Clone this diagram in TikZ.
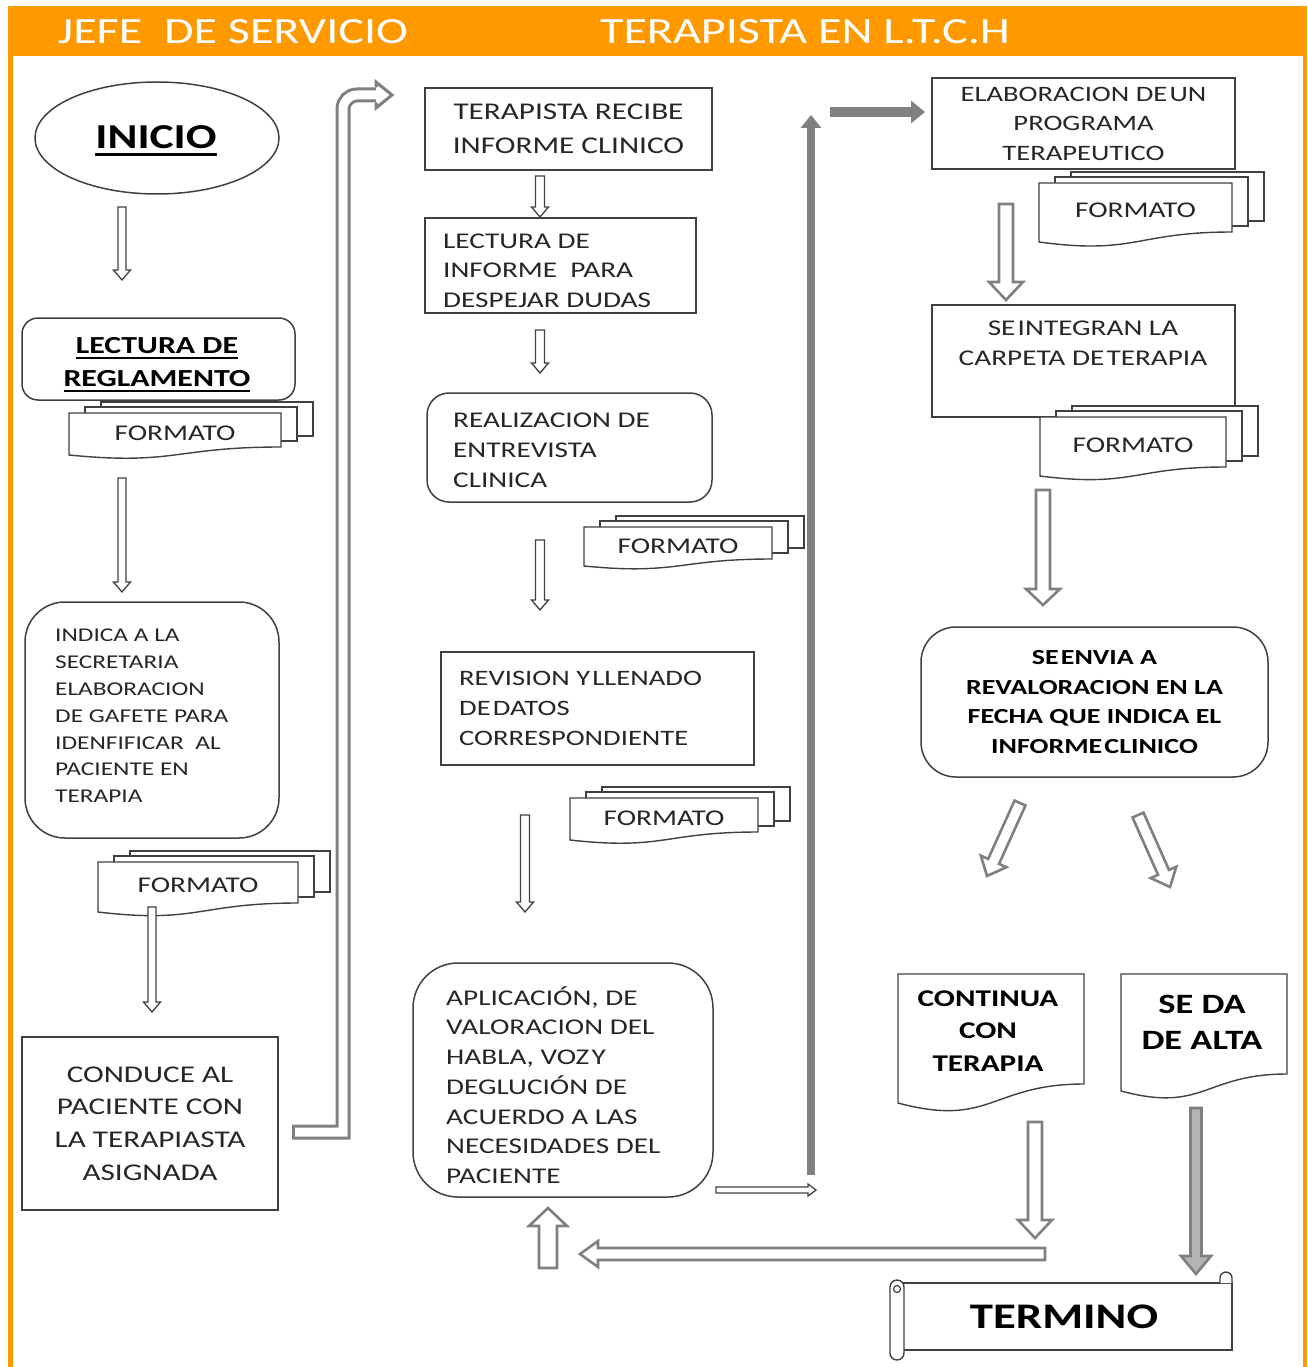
\documentclass[tikz,border=0pt]{standalone}
\usepackage{fontspec}
\setmainfont{Carlito}[FakeStretch=1.3]
\usetikzlibrary{calc,arrows.meta,shapes.geometric}
\definecolor{hdr}{RGB}{255,153,0}
\definecolor{agray}{RGB}{128,128,128}
\definecolor{bline}{RGB}{64,64,64}
\definecolor{txt}{RGB}{38,38,38}
\newcommand{\tsp}{\hspace{0.1em}}
\newcommand{\myul}[3]{\setbox0=\hbox{#1}\leavevmode\rlap{\rule[-#2]{\wd0}{#3}}\box0}
\newcommand{\blockarr}[6]{%
 \coordinate (ba-n) at ($(#2)!#5!(#1)$);
 \draw[#6] ($(#1)!#3!90:(#2)$) -- ($(ba-n)!#3!90:(#2)$) -- ($(ba-n)!#4!90:(#2)$) -- (#2) -- ($(ba-n)!#4!-90:(#2)$) -- ($(ba-n)!#3!-90:(#2)$) -- ($(#1)!#3!-90:(#2)$) -- cycle;}
\newcommand{\docshape}[5]{%
 \pgfmathsetmacro\fxm{(#1+#3)/2}\pgfmathsetmacro\fyc{#4+2.31*(#5-#4)}%
 \draw[docst] (#1,#2) -- (#3,#2) -- (#3,#4) .. controls (\fxm,#4) and (\fxm,\fyc) .. (#1,#5) -- cycle;}
\newcommand{\fmtstack}[6]{% name, x0, y0, x1, yR, yL
 \draw[docst] (#2+32,#3-11) rectangle (#4+32,#5-11);
 \draw[docst] (#2+16,#3-6) rectangle (#4+16,#5-6);
 \docshape{#2}{#3}{#4}{#5}{#6}
 \node[fmttxt] (#1) at ({(#2+#4)/2},{(#3+#5)/2+3}) {FORMATO};}
\tikzset{
 box/.style={draw=bline, line width=1.5pt, fill=white, inner sep=0pt},
 docst/.style={draw=bline, line width=1.4pt, fill=white},
 txtn/.style={text=txt, inner sep=0pt},
 fmttxt/.style={text=txt, inner sep=0pt, font=\fontsize{22.5}{27}\selectfont},
 hdrtxt/.style={text=white, inner sep=0pt, font=\fontsize{37}{42}\selectfont},
 thinarr/.style={draw=bline, line width=1.3pt, fill=white, line join=miter},
 grayarr/.style={draw=agray, line width=2.6pt, fill=white, line join=miter},
}
\begin{document}
\begin{tikzpicture}[x=1pt,y=-1pt]
\useasboundingbox (0,0) rectangle (1307,1367);
% frame
\fill[hdr] (8,6) rectangle (1307,56);
\fill[hdr] (8,56) rectangle (13,1367);
\fill[hdr] (1303,56) rectangle (1307,1367);
\node[hdrtxt] (h1) at (233,32) {JEFE\ \ DE SERVICIO};
\node[hdrtxt] (h2) at (805,32) {TERAPISTA EN L.T.C.H};

% ---------- left column
\node[box, ellipse, minimum width=244pt, minimum height=112pt] (inicio) at (157,138) {};
\node[txtn, text=black, font=\bfseries\fontsize{35}{40}\selectfont] (inicio-t) at (156,141) {\myul{INICIO}{7pt}{3pt}};
\node[box, rounded corners=16pt, minimum width=273pt, minimum height=82pt] (lectura) at (158.5,359) {};
\node[txtn, align=center, text=black, font=\bfseries\fontsize{24.5}{33}\selectfont] (lectura-t) at (157,365)
  {\myul{LECTURA DE}{5.5pt}{2.5pt}\\\myul{REGLAMENTO}{5.5pt}{2.5pt}};
\fmtstack{fmt1}{69}{413}{281}{447}{455}
\node[box, rounded corners=40pt, minimum width=254pt, minimum height=236pt] (indica) at (152,720) {};
\node[txtn, anchor=west, align=left, font=\fontsize{19.5}{26.8}\selectfont] (indica-t) at (55,716)
  {INDICA A LA\\SECRETARIA\\ELABORACION\\DE GAFETE PARA\\IDENFIFICAR\ \ AL\\PACIENTE EN\\TERAPIA};
\fmtstack{fmt2}{98}{862}{298}{903}{912}
\node[box, minimum width=256pt, minimum height=173pt, align=center, text=txt,
  font=\fontsize{24}{32.7}\selectfont] (conduce) at (150,1123.5)
  {CONDUCE AL\\PACIENTE CON\\LA TERAPIASTA\\ASIGNADA};

\coordinate (a1s) at (122,207); \coordinate (a1e) at (122,280);
\coordinate (a2s) at (122,478); \coordinate (a2e) at (122,592);
\coordinate (a3s) at (152,907); \coordinate (a3e) at (152,1012);
\blockarr{a1s}{a1e}{4pt}{8.5pt}{10pt}{thinarr}
\blockarr{a2s}{a2e}{4pt}{8.5pt}{10pt}{thinarr}
\blockarr{a3s}{a3e}{4pt}{8.5pt}{10pt}{thinarr}

% big L connector
\coordinate (lc-a) at (292,1132);
\coordinate (lc-b) at (343,1132);
\coordinate (lc-c) at (343,109);
\coordinate (lc-d) at (377,95);
\draw[agray, line width=15pt, line join=miter] (lc-a) -- (lc-b) -- (lc-c) arc[start angle=180,end angle=90,radius=14pt] -- (lc-d);
\draw[white, line width=9pt, line join=miter, shorten <=3pt] (lc-a) -- (lc-b) -- (lc-c) arc[start angle=180,end angle=90,radius=14pt] -- (lc-d);
\fill[white] (376,82) -- (392,95) -- (376,108) -- cycle;
\draw[agray, line width=3pt, line join=miter] (376,87.5) -- (376,82) -- (392,95) -- (376,108) -- (376,102.5);

% ---------- middle column
\node[box, minimum width=287pt, minimum height=82pt, align=center, text=txt,
  font=\fontsize{24}{34}\selectfont] (trecibe) at (568.5,129) {TERAPISTA RECIBE\\INFORME CLINICO};
\node[box, minimum width=271pt, minimum height=95pt] (lecinf) at (560.5,265.5) {};
\node[txtn, anchor=west, align=left, font=\fontsize{22.5}{29.5}\selectfont] (lecinf-t) at (443,270.5)
  {LECTURA DE\\INFORME\ \ PARA\\DESPEJAR DUDAS};
\node[box, rounded corners=22pt, minimum width=285pt, minimum height=109pt] (realiz) at (569.5,447.5) {};
\node[txtn, anchor=west, align=left, font=\fontsize{22.5}{30}\selectfont] (realiz-t) at (453,450)
  {REALIZACION DE\\ENTREVISTA\\CLINICA};
\fmtstack{fmt3}{584}{527}{772}{559}{566}
\node[box, minimum width=313pt, minimum height=113pt] (revis) at (597.5,708.5) {};
\node[txtn, anchor=west, align=left, font=\fontsize{22}{30}\selectfont] (revis-t) at (459,708)
  {REVISION Y\tsp LLENADO\\DE\tsp DATOS\\CORRESPONDIENTE};
\fmtstack{fmt4}{570}{798}{758}{832}{840}
\node[box, rounded corners=45pt, minimum width=300pt, minimum height=234pt] (aplic) at (563,1080) {};
\node[txtn, anchor=west, align=left, font=\fontsize{22.5}{29.7}\selectfont] (aplic-t) at (446,1085)
  {APLICACIÓN, DE\\VALORACION DEL\\HABLA, VOZ\tsp Y\\DEGLUCIÓN DE\\ACUERDO A LAS\\NECESIDADES DEL\\PACIENTE};

\coordinate (m1s) at (540,176); \coordinate (m1e) at (540,217);
\coordinate (m2s) at (540,330); \coordinate (m2e) at (540,373);
\coordinate (m3s) at (540,540); \coordinate (m3e) at (540,610);
\coordinate (m4s) at (525,815); \coordinate (m4e) at (525,912);
\coordinate (m5s) at (716,1190); \coordinate (m5e) at (816,1190);
\blockarr{m1s}{m1e}{4.5pt}{8.5pt}{10pt}{thinarr}
\blockarr{m2s}{m2e}{4.5pt}{8.5pt}{10pt}{thinarr}
\blockarr{m3s}{m3e}{4.5pt}{8.5pt}{10pt}{thinarr}
\blockarr{m4s}{m4e}{4.5pt}{8.5pt}{10pt}{thinarr}
\blockarr{m5s}{m5e}{3pt}{6pt}{8pt}{thinarr}

% solid gray connectors
\coordinate (up-s) at (811,1175); \coordinate (up-e) at (811,115);
\draw[agray, line width=8pt, -{Triangle[width=20pt,length=13pt]}] (up-s) -- (up-e);
\coordinate (rt-s) at (830,112); \coordinate (rt-e) at (925,112);
\draw[agray, line width=10pt, -{Triangle[width=22pt,length=14pt]}] (rt-s) -- (rt-e);

% ---------- right column
\node[box, minimum width=303pt, minimum height=91pt, align=center, text=txt,
  font=\fontsize{22}{29.5}\selectfont] (elab) at (1083.5,123.5) {ELABORACION DE\tsp UN\\PROGRAMA\\TERAPEUTICO};
\fmtstack{fmt5}{1039}{183}{1232}{232}{242}
\node[box, minimum width=303pt, minimum height=112pt] (integ) at (1083.5,361) {};
\node[txtn, align=center, font=\fontsize{22.5}{30}\selectfont] (integ-t) at (1083,343)
  {SE\tsp INTEGRAN LA\\CARPETA DE\tsp TERAPIA};
\fmtstack{fmt6}{1040}{417}{1226}{467}{476}
\node[box, rounded corners=35pt, minimum width=347pt, minimum height=150pt, align=center, text=black,
  font=\bfseries\fontsize{21.5}{29.5}\selectfont] (envia) at (1094.5,702)
  {SE\tsp ENVIA A\\REVALORACION EN LA\\FECHA QUE INDICA EL\\INFORME\tsp CLINICO};
\docshape{898}{974}{1084}{1084}{1103}
\node[txtn, text=black, align=center, font=\bfseries\fontsize{24}{32.5}\selectfont] (continua) at (988,1031)
  {CONTINUA\\CON\\TERAPIA};
\docshape{1121}{974}{1287}{1074}{1091}
\node[txtn, text=black, align=center, font=\bfseries\fontsize{28}{36}\selectfont] (seda) at (1202,1022)
  {SE DA\\DE ALTA};

% TERMINO scroll
\draw[docst] (897,1283) rectangle (1232,1350);
\draw[docst] (1220,1283) -- (1220,1278) arc[start angle=180,end angle=0,radius=6pt] -- (1232,1283);
\draw[docst, rounded corners=7pt] (890,1280) rectangle (904,1360);
\draw[bline, line width=1.2pt] (897,1289) circle[radius=3.5pt];
\node[txtn, text=black, font=\bfseries\fontsize{36}{40}\selectfont] (term) at (1064,1317) {TERMINO};

\coordinate (r1s) at (1006,204); \coordinate (r1e) at (1006,300);
\coordinate (r2s) at (1043,490); \coordinate (r2e) at (1043,605);
\coordinate (d1s) at (1020,803); \coordinate (d1e) at (987,876);
\coordinate (d2s) at (1138,815); \coordinate (d2e) at (1170,887);
\coordinate (r3s) at (1035,1122); \coordinate (r3e) at (1035,1238);
\coordinate (r4s) at (1196,1108); \coordinate (r4e) at (1196,1274);
\coordinate (l1s) at (1045,1254); \coordinate (l1e) at (580,1254);
\coordinate (u1s) at (548,1268); \coordinate (u1e) at (548,1208);
\blockarr{r1s}{r1e}{7pt}{17pt}{18pt}{grayarr}
\blockarr{r2s}{r2e}{7pt}{17pt}{16pt}{grayarr}
\blockarr{d1s}{d1e}{6pt}{14pt}{16pt}{grayarr}
\blockarr{d2s}{d2e}{6pt}{14pt}{16pt}{grayarr}
\blockarr{r3s}{r3e}{7pt}{17pt}{18pt}{grayarr}
\blockarr{r4s}{r4e}{5.5pt}{15pt}{18pt}{grayarr, fill=agray!60}
\blockarr{l1s}{l1e}{6pt}{13pt}{18pt}{grayarr}
\blockarr{u1s}{u1e}{9pt}{19pt}{18pt}{grayarr}
\end{tikzpicture}
\end{document}
